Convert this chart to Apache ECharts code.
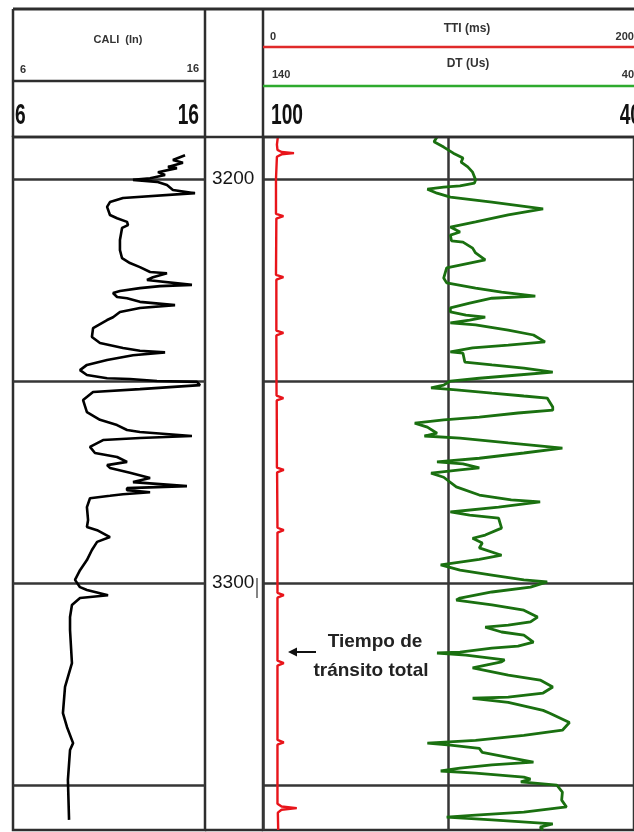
<!DOCTYPE html>
<html><head><meta charset="utf-8">
<script src="https://cdn.jsdelivr.net/npm/echarts@6/dist/echarts.min.js"></script>
<style>html,body{margin:0;padding:0;background:#fff}#c{width:634px;height:832px}</style>
</head><body><div id="c"></div>
<script>
// ---- depth range and reference depths ----
const depthMin = 3189.6;
const depthMax = 3361.1;
const depthGridLines = [3200, 3250, 3300, 3350];
const depthLabels = [3200, 3300];

// ---- header texts / scales ----
const caliTitle = 'CALI  (In)';
const caliScale = ['6', '16'];
const caliScaleBig = ['6', '16'];
const ttiTitle = 'TTI (ms)';
const ttiScale = ['0', '2000'];
const dtTitle = 'DT (Us)';
const dtScale = ['140', '40'];
const dtScaleBig = ['100', '40'];
const noteLines = ['Tiempo de', 'tránsito total'];

// ---- CALI curve (in) ----
const caliDepth = [3194.1,3195.3,3196.0,3197.0,3197.3,3198.3,3199.0,3199.8,3200.2,3200.7,3201.5,3202.7,3203.5,3204.7,3205.7,3206.9,3208.9,3209.7,3210.6,3211.4,3212.1,3215.1,3217.6,3219.6,3220.8,3221.8,3223.0,3223.3,3224.3,3225.0,3226.2,3226.5,3227.0,3227.7,3228.2,3229.2,3229.5,3230.4,3231.2,3231.9,3232.9,3234.2,3234.9,3236.9,3239.1,3240.6,3241.8,3242.5,3242.9,3243.6,3244.8,3246.0,3247.3,3248.5,3249.3,3249.5,3250.0,3250.2,3251.0,3252.0,3252.7,3254.7,3257.7,3259.6,3260.9,3262.1,3262.6,3263.6,3264.1,3264.6,3266.3,3267.8,3268.8,3270.0,3270.8,3271.5,3272.7,3274.0,3275.0,3276.0,3276.5,3277.0,3277.5,3278.0,3278.4,3279.0,3281.2,3284.4,3286.1,3286.9,3288.6,3289.8,3291.8,3294.3,3296.8,3299.2,3301.0,3301.7,3303.0,3303.7,3305.4,3308.4,3311.6,3319.8,3325.7,3332.2,3335.6,3339.6,3341.3,3348.7,3358.6];
const caliValue = [14.96,14.33,14.85,14.07,14.54,13.55,13.92,13.14,12.25,13.5,14.02,14.33,15.48,11.73,11.05,10.90,11.05,11.42,11.94,11.99,11.68,11.57,11.57,11.68,12.09,12.61,13.14,14.02,13.29,12.98,15.32,13.66,12.61,11.57,11.21,11.42,11.94,12.61,14.44,12.61,11.57,11.21,10.90,10.17,10.11,10.53,11.73,12.61,13.92,12.25,10.90,9.85,9.49,9.85,10.90,12.09,13.5,15.58,15.74,12.61,10.17,9.65,9.85,10.53,11.42,11.94,12.61,15.32,12.61,10.69,10.01,10.27,11.42,11.94,10.90,11.05,12.09,13.14,12.25,15.06,11.94,11.94,13.14,11.73,11.05,10.01,9.85,9.91,9.85,10.38,11.05,10.38,10.11,9.85,9.49,9.23,9.49,9.85,10.95,9.49,9.07,8.97,8.97,9.07,8.71,8.60,8.81,9.13,8.97,8.86,8.92];

// ---- TTI curve (ms) ----
const ttiDepth = [3189.6,3191.5,3192.8,3193.3,3193.6,3193.9,3194.5,3200.0,3208.6,3209.2,3209.8,3223.7,3224.3,3224.9,3237.5,3238.1,3238.7,3253.6,3254.2,3254.8,3271.4,3272.0,3272.6,3286.3,3286.9,3287.5,3302.4,3303.0,3303.6,3319.2,3319.8,3320.4,3338.8,3339.4,3340.0,3354.6,3355.3,3355.7,3356.1,3356.8,3361.1];
const ttiValue = [80,75,78,100,167,100,75,70,70,110,72,70,110,72,72,110,72,73,110,74,75,112,76,78,112,78,78,112,78,78,112,78,78,112,78,78,100,182,100,80,82];

// ---- DT curve (us/ft) ----
const dtDepth = [3189.6,3190.8,3192.1,3193.6,3194.8,3195.8,3197.0,3198.3,3200.2,3201.0,3201.7,3202.0,3202.5,3203.5,3204.5,3205.7,3207.4,3208.9,3210.6,3211.9,3213.1,3213.9,3215.3,3215.6,3217.1,3218.3,3220.0,3220.8,3222.0,3224.5,3225.7,3227.0,3228.0,3229.0,3229.5,3230.7,3231.9,3232.9,3233.7,3234.2,3234.9,3235.6,3236.1,3237.4,3238.6,3240.3,3241.1,3241.8,3242.8,3243.1,3245.3,3246.0,3246.8,3247.8,3248.5,3249.3,3250.0,3251.0,3251.7,3252.2,3253.0,3253.7,3254.2,3256.4,3257.2,3257.9,3258.9,3259.6,3260.4,3261.4,3262.9,3263.6,3264.1,3265.3,3266.6,3267.8,3269.1,3270.0,3270.5,3271.5,3272.0,3272.8,3273.8,3276.2,3278.2,3279.4,3279.9,3281.2,3282.4,3283.2,3283.9,3286.4,3288.1,3288.9,3290.1,3291.3,3293.1,3294.1,3294.8,3295.5,3296.8,3298.0,3299.2,3299.7,3301.0,3302.2,3303.7,3304.2,3305.4,3306.7,3308.4,3309.6,3310.4,3310.9,3312.1,3312.9,3314.6,3315.6,3316.1,3317.1,3317.3,3317.8,3319.0,3319.5,3321.0,3322.8,3324.0,3325.7,3327.2,3328.2,3328.5,3329.5,3331.5,3332.2,3334.5,3336.4,3337.7,3338.9,3339.6,3340.1,3340.9,3341.9,3343.1,3344.3,3345.0,3345.8,3346.5,3347.0,3348.0,3348.5,3349.2,3350.0,3351.7,3353.7,3355.4,3356.7,3357.4,3357.9,3358.6,3359.6,3360.4,3361.1];
const dtValue = [93.1,93.9,91.3,88.7,86.1,86.6,84.8,83.5,82.7,83.0,86.9,91.3,95.7,93.1,89.5,78.3,64.5,73.9,82.7,89.5,86.9,89.5,89.2,86.1,83.5,82.7,80.1,84.3,90.5,91.3,90.5,82.7,75.7,66.6,78.3,84.3,89.5,89.5,85.3,80.1,84.3,89.5,82.7,73.9,67.1,64.0,73.9,83.5,89.5,86.1,85.6,78.3,69.7,61.9,71.25,81.7,89.5,91.3,94.7,87.9,78.3,69.7,63.4,61.9,61.9,71.25,81.7,91.3,99.1,95.7,93.1,96.5,86.9,73.9,59.3,69.7,81.7,93.1,86.1,81.7,86.9,94.7,91.3,87.9,81.7,73.1,65.3,76.5,89.5,84.3,76.5,75.7,80.1,83.5,80.9,81.7,75.7,81.7,86.9,92.1,86.9,78.3,69.7,63.4,67.9,78.3,86.9,87.9,78.3,69.7,66.0,67.9,73.9,80.1,75.7,69.7,67.1,71.25,78.3,86.9,93.1,85.3,74.9,75.7,83.5,73.9,65.3,61.9,64.5,73.9,83.5,73.9,64.5,62.7,57.4,59.3,69.7,82.7,95.7,89.5,81.7,80.9,73.9,67.1,78.3,86.9,92.1,82.7,69.7,67.9,70.5,60.8,59.3,59.5,58.2,69.7,82.7,90.5,78.3,61.9,65.3,64.5];

const zip = (d, v) => d.map((dd, i) => [v[i], dd]);

const chart = echarts.init(document.getElementById('c'), null, {renderer: 'canvas'});
const LINE = '#2e2e2e';
const sans = '"Liberation Sans", Arial, sans-serif';

function txt(x, y, text, font, align, fill, sx) {
  return {type: 'text', x: x, y: y, z: 10, silent: true, scaleX: sx || 1,
    style: {text: text, font: font, fill: fill || '#222', align: align, textAlign: align,
      verticalAlign: 'middle', textVerticalAlign: 'middle'}};
}
function ln(x1, y1, x2, y2, color, w) {
  return {type: 'line', z: 5, silent: true, shape: {x1: x1, y1: y1, x2: x2, y2: y2},
    style: {stroke: color || LINE, lineWidth: w || 2.5}};
}

const splitStyle = {show: true, lineStyle: {color: '#363636', width: 2.5}};

const option = {
  animation: false,
  backgroundColor: '#ffffff',
  grid: [
    {left: 13, top: 137, width: 192, height: 693, show: true, borderColor: LINE, borderWidth: 2.5},
    {left: 263, top: 137, width: 384, height: 693, show: true, borderColor: LINE, borderWidth: 2.5}
  ],
  xAxis: [
    {gridIndex: 0, type: 'value', min: 6, max: 16, show: false},
    {gridIndex: 1, type: 'value', min: 0, max: 2000, interval: 1000, position: 'top',
      axisLine: {show: false}, axisTick: {show: false}, axisLabel: {show: false}, splitLine: splitStyle},
    {gridIndex: 1, type: 'value', min: 40, max: 140, inverse: true, show: false, splitLine: {show: false}}
  ],
  yAxis: [
    {gridIndex: 0, type: 'value', inverse: true, min: depthMin, max: depthMax, position: 'right',
      axisLine: {show: false}, axisTick: {show: false, customValues: depthGridLines},
      axisLabel: {customValues: depthLabels, margin: 7, fontFamily: sans, fontSize: 19, color: '#151515',
        formatter: v => String(v)},
      splitLine: splitStyle},
    {gridIndex: 1, type: 'value', inverse: true, min: depthMin, max: depthMax,
      axisLine: {show: false}, axisTick: {show: false, customValues: depthGridLines},
      axisLabel: {show: false}, splitLine: splitStyle}
  ],
  series: [
    {name: 'CALI', type: 'line', xAxisIndex: 0, yAxisIndex: 0, data: zip(caliDepth, caliValue),
      showSymbol: false, lineStyle: {color: '#000', width: 2.6}, z: 3},
    {name: 'TTI', type: 'line', xAxisIndex: 1, yAxisIndex: 1, data: zip(ttiDepth, ttiValue),
      showSymbol: false, lineStyle: {color: '#e8141a', width: 2.4}, z: 3},
    {name: 'DT', type: 'line', xAxisIndex: 2, yAxisIndex: 1, data: zip(dtDepth, dtValue),
      showSymbol: false, lineStyle: {color: '#1a7010', width: 2.8}, z: 3}
  ],
  graphic: [
    // frame
    ln(13, 9, 634, 9, LINE, 3),
    ln(13, 9, 13, 137, LINE, 2.5),
    ln(205, 9, 205, 137, LINE, 2.5),
    ln(263, 9, 263, 137, LINE, 2.5),
    ln(13, 81, 205, 81, LINE, 2.5),
    ln(13, 137, 634, 137, LINE, 2.5),
    ln(205, 830, 263, 830, LINE, 2.5),
    ln(263, 47, 634, 47, '#e02a2a', 2.5),
    ln(263, 86, 634, 86, '#2eaa2e', 2.5),
    ln(257, 578, 257, 598, '#333', 1.2),
    // header texts
    txt(118, 40, caliTitle, 'bold 11px ' + sans, 'center', '#333'),
    txt(20, 70, caliScale[0], 'bold 11px ' + sans, 'left', '#333'),
    txt(199, 69, caliScale[1], 'bold 11px ' + sans, 'right', '#333'),
    txt(15, 116, caliScaleBig[0], 'bold 30px ' + sans, 'left', '#111', 0.64),
    txt(199, 116, caliScaleBig[1], 'bold 30px ' + sans, 'right', '#111', 0.64),
    txt(270, 37, ttiScale[0], 'bold 11px ' + sans, 'left', '#333'),
    txt(467, 29, ttiTitle, 'bold 12px ' + sans, 'center', '#333'),
    txt(640, 37, ttiScale[1], 'bold 11px ' + sans, 'right', '#333'),
    txt(272, 75, dtScale[0], 'bold 11px ' + sans, 'left', '#333'),
    txt(468, 64, dtTitle, 'bold 12px ' + sans, 'center', '#333'),
    txt(634, 75, dtScale[1], 'bold 11px ' + sans, 'right', '#333'),
    txt(271, 116, dtScaleBig[0], 'bold 30px ' + sans, 'left', '#111', 0.64),
    txt(641, 116, dtScaleBig[1], 'bold 30px ' + sans, 'right', '#111', 0.64),
    // annotation
    txt(375, 642, noteLines[0], 'bold 19px ' + sans, 'center', '#222'),
    txt(371, 671, noteLines[1], 'bold 19px ' + sans, 'center', '#222'),
    ln(294, 652, 316, 652, '#111', 2),
    {type: 'polygon', z: 10, silent: true, shape: {points: [[288, 652], [297, 647.5], [297, 656.5]]}, style: {fill: '#111'}}
  ]
};
chart.setOption(option);
</script>
</body></html>
